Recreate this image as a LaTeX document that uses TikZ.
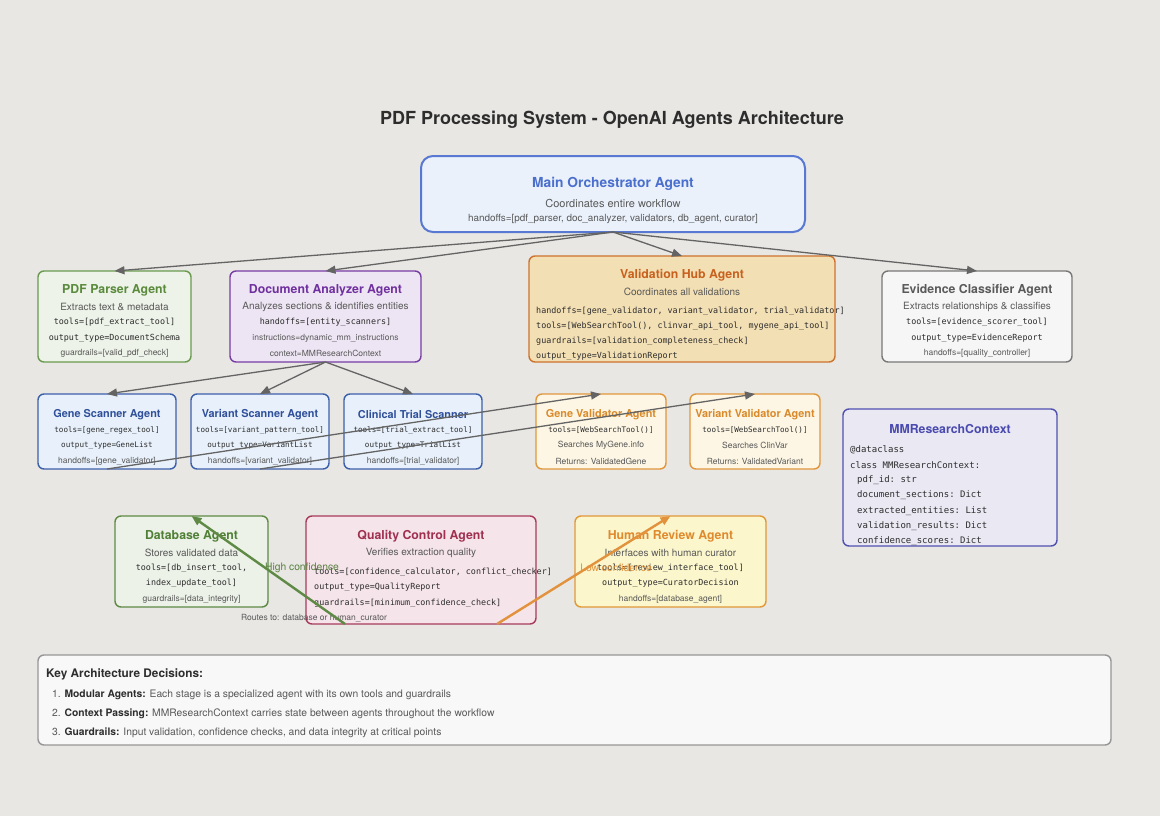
\documentclass[tikz,border=0pt]{standalone}
\usepackage{fontspec}
\setmainfont{TeX Gyre Heros}
\setmonofont{DejaVu Sans Mono}
\usepackage{tikz}
\usepackage{xcolor}
\usetikzlibrary{calc,arrows.meta}
\definecolor{bg}{RGB}{232,231,228}
\definecolor{txtgray}{RGB}{88,88,88}
\definecolor{codec}{RGB}{45,45,45}
\definecolor{arrgray}{RGB}{100,100,100}
\definecolor{mainF}{RGB}{234,241,251}
\definecolor{mainD}{RGB}{88,120,210}
\definecolor{mainT}{RGB}{74,111,205}
\definecolor{pdfF}{RGB}{237,243,232}
\definecolor{pdfD}{RGB}{106,154,79}
\definecolor{pdfT}{RGB}{90,138,60}
\definecolor{docF}{RGB}{237,229,243}
\definecolor{docD}{RGB}{120,60,165}
\definecolor{docT}{RGB}{112,48,160}
\definecolor{hubF}{RGB}{243,223,180}
\definecolor{hubD}{RGB}{205,115,45}
\definecolor{hubT}{RGB}{200,97,30}
\definecolor{eviF}{RGB}{246,246,246}
\definecolor{eviD}{RGB}{120,120,120}
\definecolor{eviT}{RGB}{90,90,90}
\definecolor{scanF}{RGB}{232,241,251}
\definecolor{scanD}{RGB}{60,95,170}
\definecolor{scanT}{RGB}{47,79,154}
\definecolor{valF}{RGB}{253,246,228}
\definecolor{valD}{RGB}{225,150,60}
\definecolor{valT}{RGB}{217,138,43}
\definecolor{ctxF}{RGB}{233,232,243}
\definecolor{ctxD}{RGB}{80,80,176}
\definecolor{ctxT}{RGB}{74,74,176}
\definecolor{dbF}{RGB}{236,242,232}
\definecolor{dbD}{RGB}{94,138,69}
\definecolor{dbT}{RGB}{79,127,53}
\definecolor{qcF}{RGB}{245,228,234}
\definecolor{qcD}{RGB}{168,58,90}
\definecolor{qcT}{RGB}{160,48,80}
\definecolor{humF}{RGB}{251,246,204}
\definecolor{humD}{RGB}{224,152,56}
\definecolor{humT}{RGB}{224,138,46}
\definecolor{keyF}{RGB}{248,248,248}
\definecolor{keyD}{RGB}{150,150,150}
\definecolor{hiG}{RGB}{88,128,62}
\definecolor{loO}{RGB}{226,146,60}

\begin{document}
\begin{tikzpicture}[x=1pt, y=-1pt,
    box/.style={draw, rounded corners=6pt, line width=1.4pt, inner sep=0pt, outer sep=0pt},
    txt/.style={inner sep=0pt, yshift=-1.5pt},
    ttl/.style={txt, font=\bfseries\fontsize{12.3}{14}\selectfont},
    sttl/.style={txt, font=\bfseries\fontsize{10.9}{13}\selectfont},
    dsc/.style={txt, text=txtgray, font=\fontsize{10}{12}\selectfont},
    code/.style={txt, text=codec, font=\ttfamily\fontsize{8.4}{10}\selectfont},
    scode/.style={txt, text=codec, font=\ttfamily\fontsize{7.6}{9}\selectfont},
    note/.style={txt, text=txtgray, font=\fontsize{8.5}{10}\selectfont},
    arr/.style={draw=arrgray, line width=1.3pt, -{Triangle[length=10pt,width=8pt]}}]
        % Background
        \fill[bg] (0,0) rectangle (1160,816);
        \useasboundingbox (0,0) rectangle (1160,816);

        \node[txt, text=codec, font=\bfseries\fontsize{18}{21}\selectfont] (title) at (612,118) {PDF Processing System - OpenAI Agents Architecture};

        % Main orchestrator
        \node[box, line width=2pt, rounded corners=12pt, fill=mainF, draw=mainD, minimum width=384pt, minimum height=76pt] (main) at (613,194) {};
        \node[ttl, text=mainT, font=\bfseries\fontsize{13.8}{16}\selectfont] (main-t) at (613,182) {Main Orchestrator Agent};
        \node[dsc, font=\fontsize{11}{13}\selectfont] (main-d) at (613,202) {Coordinates entire workflow};
        \node[note, font=\fontsize{9.9}{12}\selectfont] (main-h) at (613,217) {handoffs=[pdf\_parser, doc\_analyzer, validators, db\_agent, curator]};

        % PDF parser
        \node[box, fill=pdfF, draw=pdfD, minimum width=153pt, minimum height=91pt] (pdf) at (114.5,316.5) {};
        \node[ttl, text=pdfT] (pdf-t) at (114.5,289) {PDF Parser Agent};
        \node[dsc] (pdf-d) at (114.5,305) {Extracts text \& metadata};
        \node[code] (pdf-c1) at (114.5,321) {tools=[pdf\_extract\_tool]};
        \node[code] (pdf-c2) at (114.5,337) {output\_type=DocumentSchema};
        \node[note] (pdf-n) at (114.5,352) {guardrails=[valid\_pdf\_check]};

        % Document analyzer
        \node[box, fill=docF, draw=docD, minimum width=191pt, minimum height=91pt] (doc) at (325.5,316.5) {};
        \node[ttl, text=docT] (doc-t) at (325.5,289) {Document Analyzer Agent};
        \node[dsc] (doc-d) at (325.5,305) {Analyzes sections \& identifies entities};
        \node[code] (doc-c1) at (325.5,321) {handoffs=[entity\_scanners]};
        \node[note] (doc-n1) at (325.5,337) {instructions=dynamic\_mm\_instructions};
        \node[note] (doc-n2) at (325.5,352) {context=MMResearchContext};

        % Validation hub
        \node[box, fill=hubF, draw=hubD, minimum width=306pt, minimum height=106pt] (hub) at (682,309) {};
        \node[ttl, text=hubT] (hub-t) at (682,274) {Validation Hub Agent};
        \node[dsc] (hub-d) at (682,290) {Coordinates all validations};
        \node[code, anchor=west] (hub-c1) at (536,310) {handoffs=[gene\_validator, variant\_validator, trial\_validator]};
        \node[code, anchor=west] (hub-c2) at (536,325) {tools=[WebSearchTool(), clinvar\_api\_tool, mygene\_api\_tool]};
        \node[code, anchor=west] (hub-c3) at (536,340) {guardrails=[validation\_completeness\_check]};
        \node[code, anchor=west] (hub-c4) at (536,355) {output\_type=ValidationReport};

        % Evidence classifier
        \node[box, fill=eviF, draw=eviD, minimum width=190pt, minimum height=91pt] (evi) at (977,316.5) {};
        \node[ttl, text=eviT] (evi-t) at (977,289) {Evidence Classifier Agent};
        \node[dsc] (evi-d) at (977,305) {Extracts relationships \& classifies};
        \node[code] (evi-c1) at (977,321) {tools=[evidence\_scorer\_tool]};
        \node[code] (evi-c2) at (977,337) {output\_type=EvidenceReport};
        \node[note] (evi-n) at (977,352) {handoffs=[quality\_controller]};

        % Scanners
        \node[box, fill=scanF, draw=scanD, minimum width=138pt, minimum height=75pt] (gscan) at (107,431.5) {};
        \node[sttl, text=scanT] (gscan-t) at (107,413) {Gene Scanner Agent};
        \node[scode] (gscan-c1) at (107,429) {tools=[gene\_regex\_tool]};
        \node[scode] (gscan-c2) at (107,444) {output\_type=GeneList};
        \node[note] (gscan-n) at (107,460) {handoffs=[gene\_validator]};

        \node[box, fill=scanF, draw=scanD, minimum width=138pt, minimum height=75pt] (vscan) at (260,431.5) {};
        \node[sttl, text=scanT] (vscan-t) at (260,413) {Variant Scanner Agent};
        \node[scode] (vscan-c1) at (260,429) {tools=[variant\_pattern\_tool]};
        \node[scode] (vscan-c2) at (260,444) {output\_type=VariantList};
        \node[note] (vscan-n) at (260,460) {handoffs=[variant\_validator]};

        \node[box, fill=scanF, draw=scanD, minimum width=138pt, minimum height=75pt] (tscan) at (413,431.5) {};
        \node[sttl, text=scanT] (tscan-t) at (413,413) {Clinical Trial Scanner};
        \node[scode] (tscan-c1) at (413,429) {tools=[trial\_extract\_tool]};
        \node[scode] (tscan-c2) at (413,444) {output\_type=TrialList};
        \node[note] (tscan-n) at (413,460) {handoffs=[trial\_validator]};

        % Validators
        \node[box, fill=valF, draw=valD, minimum width=130pt, minimum height=75pt] (gval) at (601,431.5) {};
        \node[sttl, text=valT] (gval-t) at (601,413) {Gene Validator Agent};
        \node[scode] (gval-c) at (601,429) {tools=[WebSearchTool()]};
        \node[note] (gval-n1) at (601,444) {Searches MyGene.info};
        \node[note] (gval-n2) at (601,460) {Returns: ValidatedGene};

        \node[box, fill=valF, draw=valD, minimum width=130pt, minimum height=75pt] (vval) at (755,431.5) {};
        \node[sttl, text=valT] (vval-t) at (755,413) {Variant Validator Agent};
        \node[scode] (vval-c) at (755,429) {tools=[WebSearchTool()]};
        \node[note] (vval-n1) at (755,444) {Searches ClinVar};
        \node[note] (vval-n2) at (755,460) {Returns: ValidatedVariant};

        % Shared context
        \node[box, fill=ctxF, draw=ctxD, minimum width=214pt, minimum height=137pt] (ctx) at (950,477.5) {};
        \node[ttl, text=ctxT] (ctx-t) at (950,428) {MMResearchContext};
        \node[code, font=\ttfamily\fontsize{9}{11}\selectfont, anchor=west] (ctx-c1) at (850,448) {@dataclass};
        \node[code, font=\ttfamily\fontsize{9}{11}\selectfont, anchor=west] (ctx-c2) at (850,464) {class MMResearchContext:};
        \node[code, font=\ttfamily\fontsize{9}{11}\selectfont, anchor=west] (ctx-c3) at (857,479) {pdf\_id: str};
        \node[code, font=\ttfamily\fontsize{9}{11}\selectfont, anchor=west] (ctx-c4) at (857,494) {document\_sections: Dict};
        \node[code, font=\ttfamily\fontsize{9}{11}\selectfont, anchor=west] (ctx-c5) at (857,510) {extracted\_entities: List};
        \node[code, font=\ttfamily\fontsize{9}{11}\selectfont, anchor=west] (ctx-c6) at (857,525) {validation\_results: Dict};
        \node[code, font=\ttfamily\fontsize{9}{11}\selectfont, anchor=west] (ctx-c7) at (857,540) {confidence\_scores: Dict};

        % Database
        \node[box, fill=dbF, draw=dbD, minimum width=153pt, minimum height=91pt] (db) at (191.5,561.5) {};
        \node[ttl, text=dbT] (db-t) at (191.5,535) {Database Agent};
        \node[dsc] (db-d) at (191.5,551) {Stores validated data};
        \node[code] (db-c1) at (191.5,567) {tools=[db\_insert\_tool,};
        \node[code] (db-c2) at (191.5,582) {index\_update\_tool]};
        \node[note] (db-n) at (191.5,598) {guardrails=[data\_integrity]};

        % Quality control
        \node[box, fill=qcF, draw=qcD, minimum width=230pt, minimum height=108pt] (qc) at (421,570) {};
        \node[ttl, text=qcT] (qc-t) at (421,535) {Quality Control Agent};
        \node[dsc] (qc-d) at (421,551) {Verifies extraction quality};
        \node[code, anchor=west] (qc-c1) at (314,571) {tools=[confidence\_calculator, conflict\_checker]};
        \node[code, anchor=west] (qc-c2) at (314,586) {output\_type=QualityReport};
        \node[code, anchor=west] (qc-c3) at (314,602) {guardrails=[minimum\_confidence\_check]};
        \node[note] (qc-n) at (314,617) {Routes to: database or human\_curator};

        % Human review
        \node[box, fill=humF, draw=humD, minimum width=191pt, minimum height=91pt] (hum) at (670.5,561.5) {};
        \node[ttl, text=humT] (hum-t) at (670.5,535) {Human Review Agent};
        \node[dsc] (hum-d) at (670.5,551) {Interfaces with human curator};
        \node[code] (hum-c1) at (670.5,567) {tools=[review\_interface\_tool]};
        \node[code] (hum-c2) at (670.5,582) {output\_type=CuratorDecision};
        \node[note] (hum-n) at (670.5,598) {handoffs=[database\_agent]};

        % Routing labels
        \node[dsc, text=hiG, font=\fontsize{10.3}{12}\selectfont] (hi) at (302,566) {High confidence};
        \node[dsc, text=loO, font=\fontsize{10.3}{12}\selectfont] (lo) at (616,566) {Low confidence};

        % Key decisions
        \node[box, fill=keyF, draw=keyD, minimum width=1073pt, minimum height=90pt] (key) at (574.5,700) {};
        \node[txt, anchor=west, text=codec, font=\bfseries\fontsize{11.8}{14}\selectfont] (key-t) at (46,673) {Key Architecture Decisions:};
        \node[txt, anchor=west, text=txtgray, font=\fontsize{10.3}{12}\selectfont] (key-1) at (52,693) {1. \textbf{\color{codec}Modular Agents:} Each stage is a specialized agent with its own tools and guardrails};
        \node[txt, anchor=west, text=txtgray, font=\fontsize{10.3}{12}\selectfont] (key-2) at (52,712) {2. \textbf{\color{codec}Context Passing:} MMResearchContext carries state between agents throughout the workflow};
        \node[txt, anchor=west, text=txtgray, font=\fontsize{10.3}{12}\selectfont] (key-3) at (52,731) {3. \textbf{\color{codec}Guardrails:} Input validation, confidence checks, and data integrity at critical points};

        % Handoffs
        \foreach \a in {pdf, doc, hub, evi}
            \draw[arr] (main.south) -- (\a.north);
        \foreach \a in {gscan, vscan, tscan}
            \draw[arr] (doc.south) -- (\a.north);
        \draw[arr] (gscan.south) -- (gval.north);
        \draw[arr] (vscan.south) -- (vval.north);
        \draw[arr, draw=dbD, line width=2.4pt] ($(qc.south)+(-76,0)$) -- (db.north);
        \draw[arr, draw=loO, line width=2.4pt] ($(qc.south)+(76,0)$) -- (hum.north);
    \end{tikzpicture}
\end{document}
